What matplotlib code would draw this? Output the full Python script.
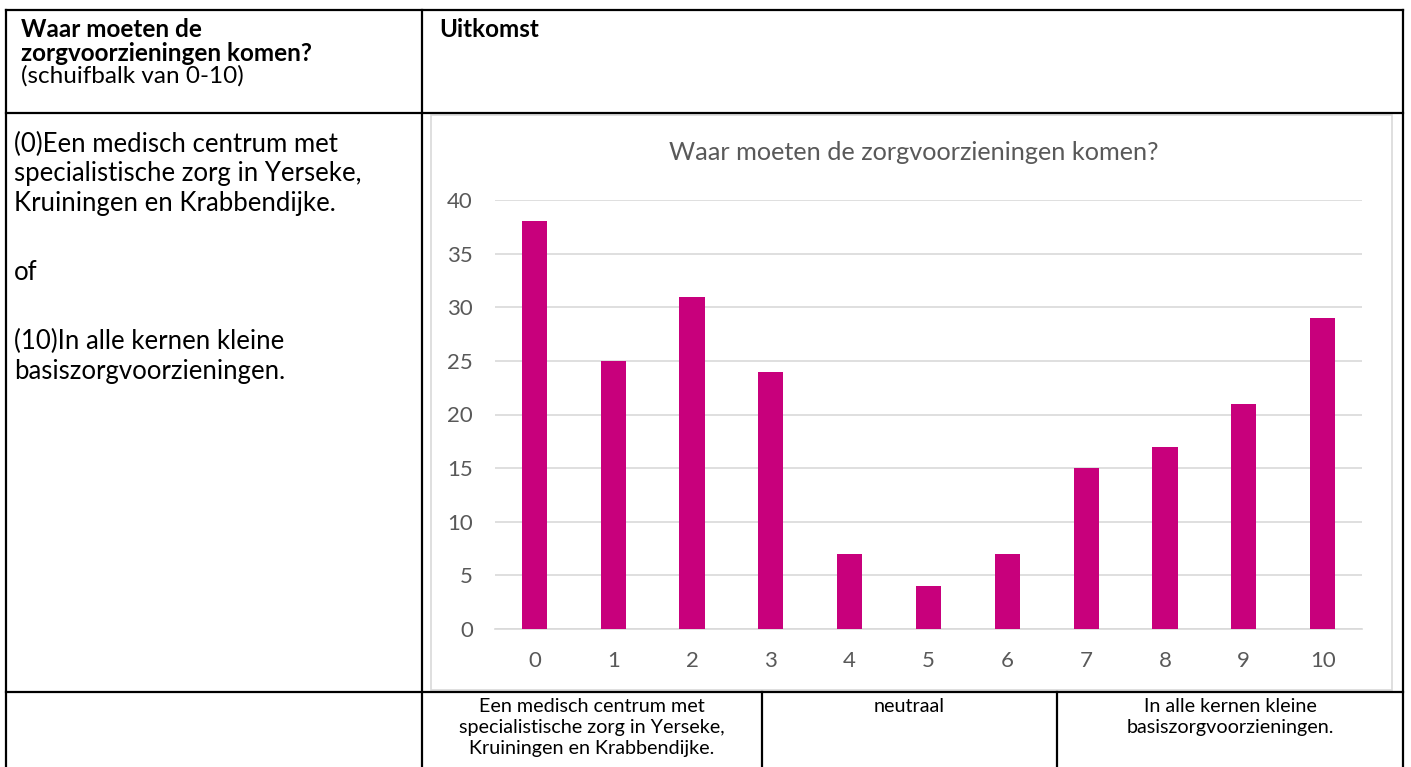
import numpy as np
import matplotlib
matplotlib.use("Agg")
import matplotlib.pyplot as plt

# data
categories = ["0", "1", "2", "3", "4", "5", "6", "7", "8", "9", "10"]
values = [38, 25, 31, 24, 7, 4, 7, 15, 17, 21, 29]
y_ticks = [0, 5, 10, 15, 20, 25, 30, 35, 40]
chart_title = "Waar moeten de zorgvoorzieningen komen?"
header_left = ["Waar moeten de", "zorgvoorzieningen komen?"]
header_left_sub = "(schuifbalk van 0-10)"
header_right = "Uitkomst"
body_left = ["(0)Een medisch centrum met", "specialistische zorg in Yerseke,",
             "Kruiningen en Krabbendijke.", "", "of", "",
             "(10)In alle kernen kleine", "basiszorgvoorzieningen."]
foot_labels = [["Een medisch centrum met", "specialistische zorg in Yerseke,",
                "Kruiningen en Krabbendijke."],
               ["neutraal"],
               ["In alle kernen kleine", "basiszorgvoorzieningen."]]

plt.rcParams['font.family'] = ['Lato', 'DejaVu Sans']

W, H = 1411, 767
fig = plt.figure(figsize=(W / 100, H / 100), dpi=100)

# background axes in pixel coords for the table
bg = fig.add_axes([0, 0, 1, 1])
bg.set_xlim(0, W)
bg.set_ylim(H, 0)
bg.axis("off")

lw = 1.6
L, R, T = 6, 1403, 10
col = 422
r1, r2 = 113, 692
for yy in (T, r1, r2):
    bg.plot([L, R], [yy, yy], color="black", lw=lw, solid_capstyle="projecting")
for xx in (L, col, R):
    bg.plot([xx, xx], [T, H + 5], color="black", lw=lw, solid_capstyle="projecting")
for xx in (762, 1057):
    bg.plot([xx, xx], [r2, H + 5], color="black", lw=lw)

# header text
bg.text(21, 37, header_left[0], fontsize=17.5, fontweight="bold", va="baseline")
bg.text(21, 61, header_left[1], fontsize=17.5, fontweight="bold", va="baseline")
bg.text(21, 83, header_left_sub, fontsize=17.5, va="baseline")
bg.text(439, 37, header_right, fontsize=17.5, fontweight="bold", va="baseline")

# body text (empty lines are taller in the original cell)
yb = 152
for line in body_left:
    if line:
        bg.text(14, yb, line, fontsize=18.5, va="baseline")
        yb += 29.3
    else:
        yb += 40

# footer
centers = [(col + 762) / 2, (762 + 1057) / 2, (1057 + R) / 2]
for cx, lines in zip(centers, foot_labels):
    for i, line in enumerate(lines):
        bg.text(cx, 712 + i * 21, line, fontsize=14.2, ha="center", va="baseline")

# chart frame
bg.add_patch(plt.Rectangle((431, 115), 1392 - 431, 690 - 115, fill=False,
                           edgecolor="#D9D9D9", lw=1.2))
bg.text(914, 160, chart_title, fontsize=18.2, color="#595959", ha="center",
        va="baseline")

# chart axes
px_l, px_r, px_t, px_b = 495, 1362, 200, 629
ax = fig.add_axes([px_l / W, 1 - px_b / H, (px_r - px_l) / W, (px_b - px_t) / H])
x = np.arange(len(categories))
ax.bar(x, values, width=0.32, color="#C8007C", zorder=3)
ax.set_xlim(-0.5, len(categories) - 0.5)
ax.set_ylim(0, 40)
ax.set_yticks(y_ticks)
ax.set_xticks(x)
ax.set_xticklabels(categories)
ax.grid(axis="y", color="#D9D9D9", lw=1.2, zorder=0)
for s in ("top", "right", "left"):
    ax.spines[s].set_visible(False)
ax.spines["bottom"].set_color("#D9D9D9")
ax.spines["bottom"].set_linewidth(1.2)
ax.tick_params(length=0, labelsize=16, labelcolor="#595959")
ax.tick_params(axis="x", pad=16)
ax.tick_params(axis="y", pad=16)
ax.patch.set_alpha(0)

fig.savefig("out.png", dpi=100)
